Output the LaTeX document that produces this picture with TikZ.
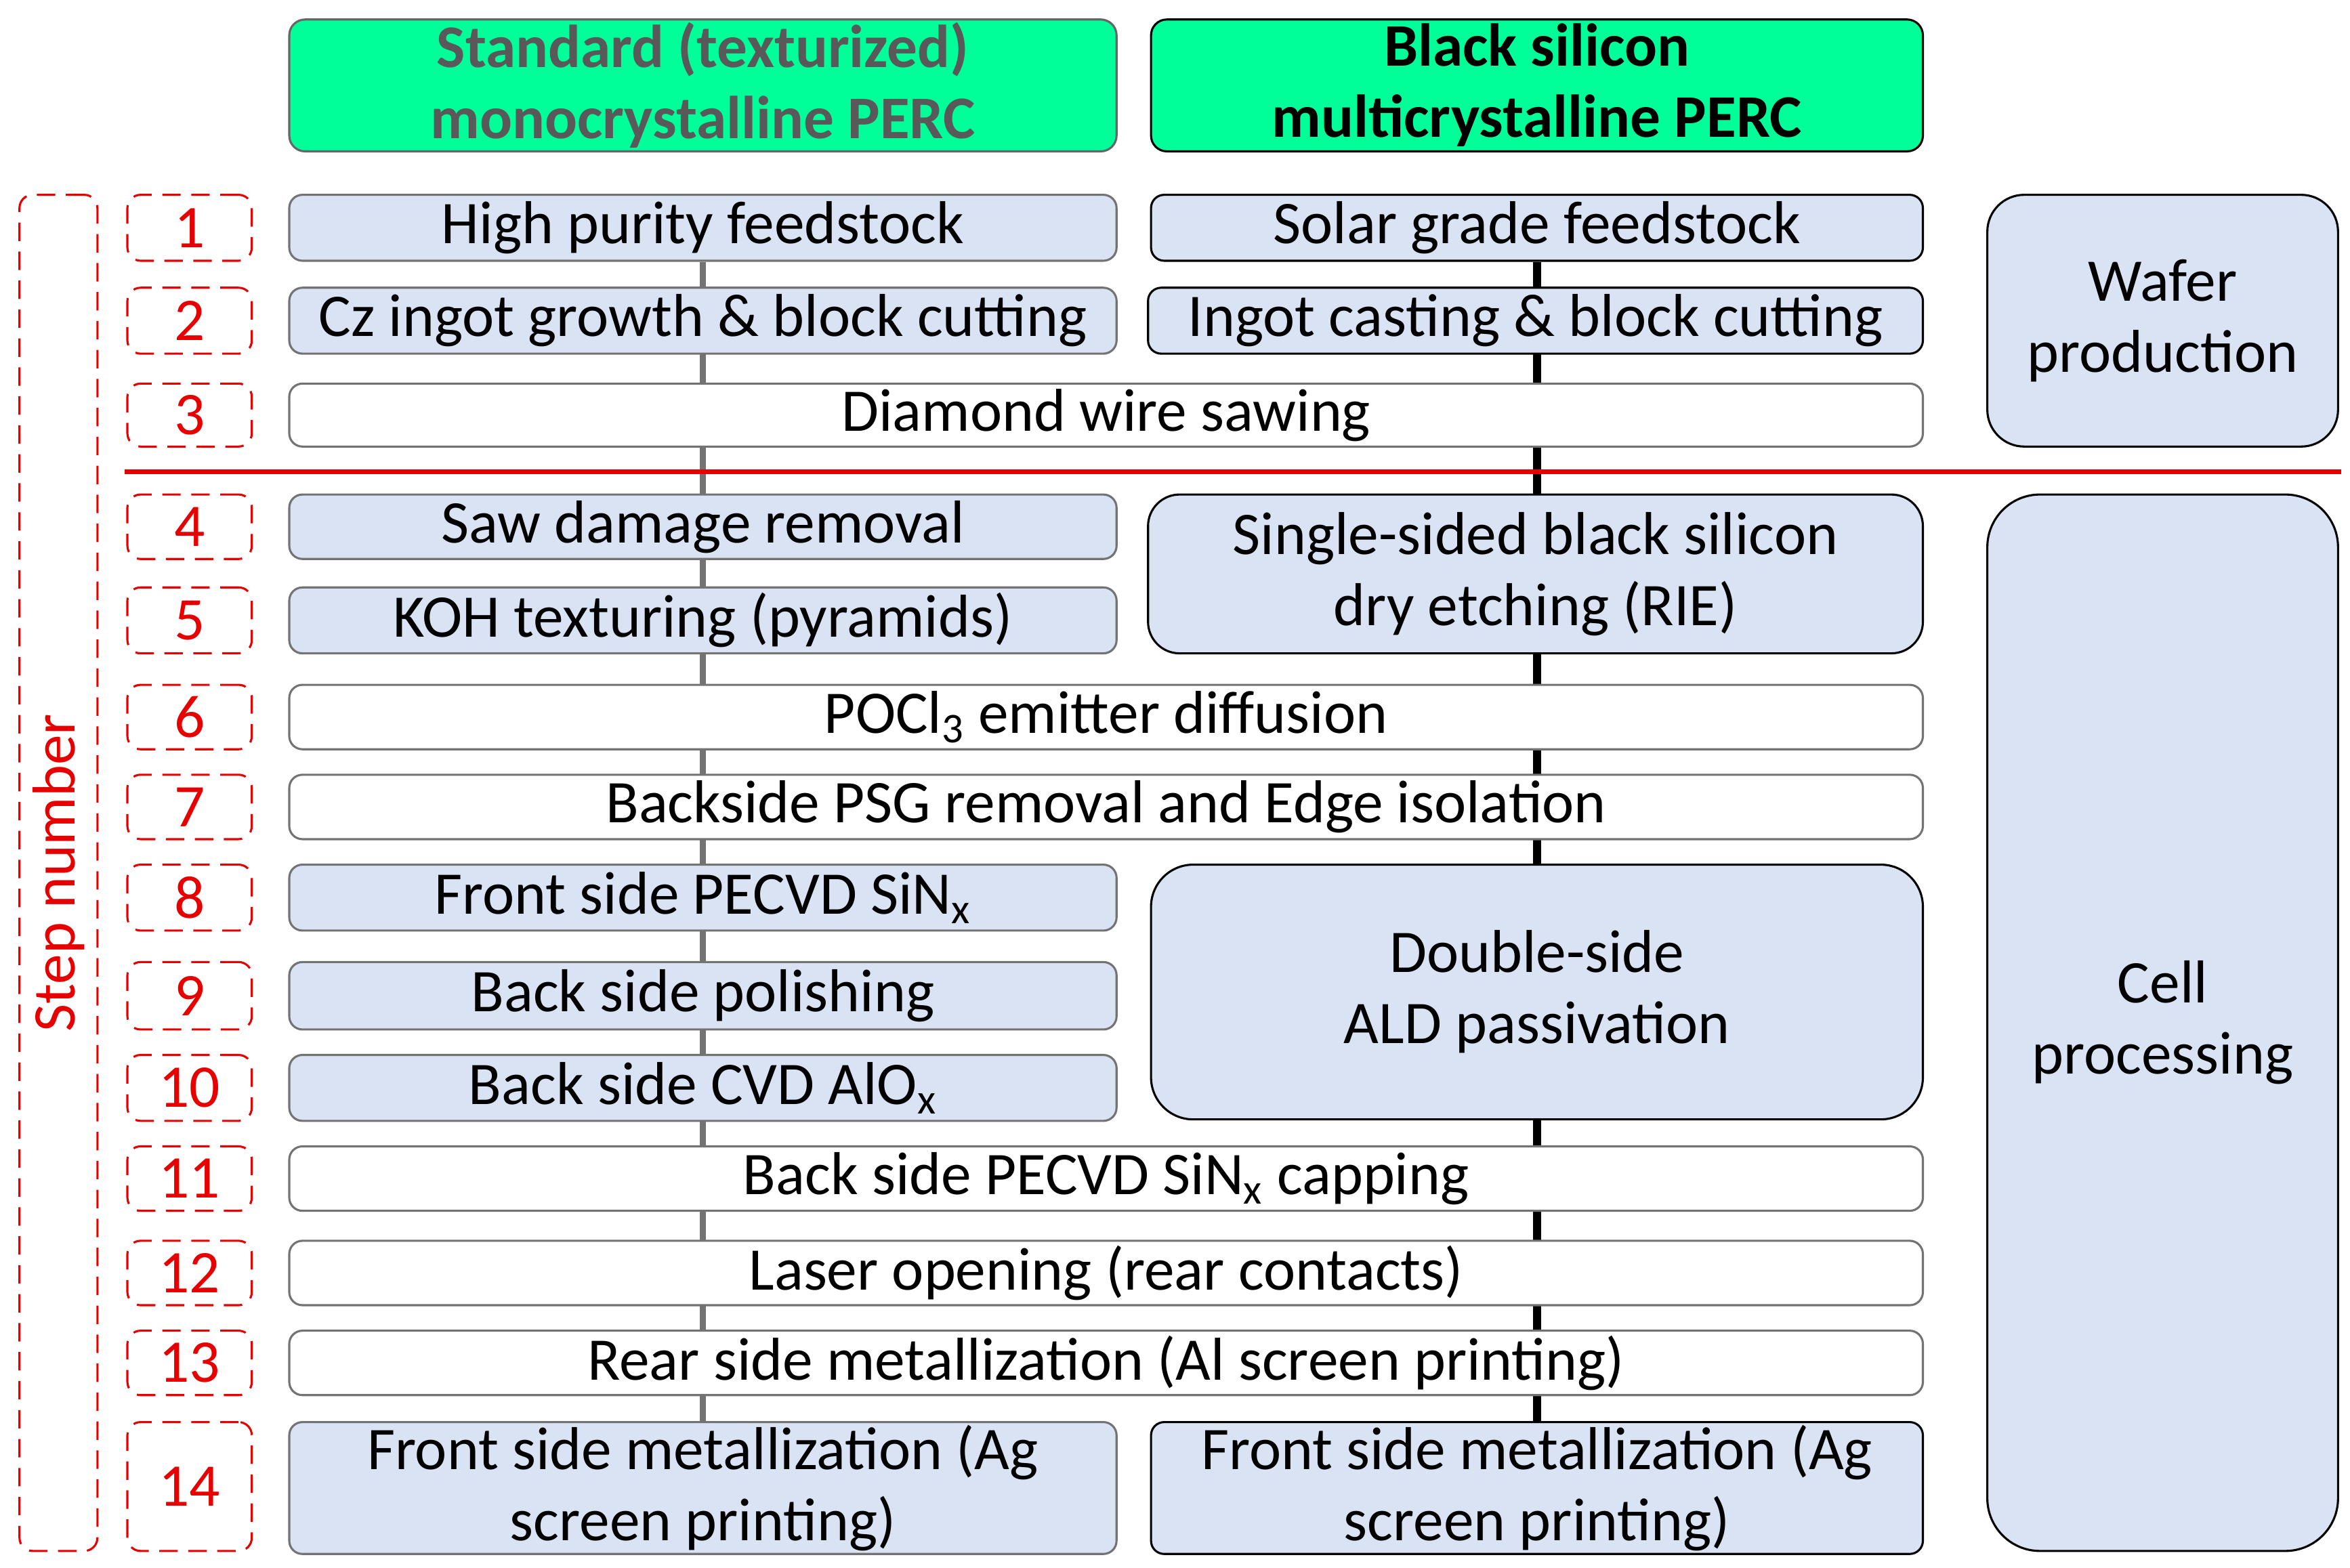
\documentclass[tikz,border=0pt]{standalone}
\usepackage{fontspec}
\setmainfont{Carlito}
\usepackage{tikz}
\usetikzlibrary{fit,backgrounds}
\definecolor{hdrgreen}{RGB}{0,255,153}
\definecolor{boxblue}{RGB}{218,227,243}
\definecolor{stepred}{RGB}{230,0,0}
\begin{document}
\begin{tikzpicture}[x=0.02cm,y=-0.02cm,
    every node/.style={inner sep=0pt, align=center, font=\fontsize{23}{27}\selectfont},
    hdr/.style={draw=black!60, thick, rounded corners=6pt, fill=hdrgreen},
    hdrtext/.style={font=\fontsize{23}{27}\selectfont\bfseries},
    proc/.style={draw=black!55, thick, rounded corners=5pt, fill=boxblue},
    procb/.style={draw=black, thick, rounded corners=5pt, fill=boxblue},
    common/.style={draw=black!55, thick, rounded corners=5pt, fill=white},
    nr/.style={draw=stepred, thick, dash pattern=on 7pt off 4pt, rounded corners=5pt, text=stepred},
    phase/.style={draw=black, thick, rounded corners=14pt, fill=boxblue}
    ]
    \useasboundingbox (0,0) rectangle (1568,1046);

    % headers
    \node[hdr, fit={(193,13)(745,101)}, label={[hdrtext, text=black!65]center:{Standard (texturized)\\monocrystalline PERC}}](hstd){};
    \node[hdr, draw=black, fit={(768,13)(1283,101)}, label={[hdrtext]center:{Black silicon\\multicrystalline PERC}}](hbs){};

    % process steps
    \node[proc, fit={(193,130)(745,174)}, label=center:{High purity feedstock}](s1){};
    \node[procb, fit={(768,130)(1283,174)}, label=center:{Solar grade feedstock}](b1){};
    \node[proc, fit={(193,192)(745,236)}, label=center:{Cz ingot growth \& block cutting}](s2){};
    \node[procb, fit={(766,192)(1283,236)}, label=center:{Ingot casting \& block cutting}](b2){};
    \node[common, fit={(193,256)(1283,298)}, label=center:{Diamond wire sawing}](c3){};
    \node[proc, fit={(193,330)(745,373)}, label=center:{Saw damage removal}](s4){};
    \node[proc, fit={(193,392)(745,436)}, label=center:{KOH texturing (pyramids)}](s5){};
    \node[procb, rounded corners=12pt, fit={(766,330)(1283,436)}, label=center:{Single-sided black silicon\\dry etching (RIE)}](b4){};
    \node[common, fit={(193,457)(1283,500)}, label=center:{POCl\textsubscript{3} emitter diffusion}](c6){};
    \node[common, fit={(193,517)(1283,560)}, label=center:{Backside PSG removal and Edge isolation}](c7){};
    \node[proc, fit={(193,577)(745,621)}, label=center:{Front side PECVD SiN\textsubscript{x}}](s8){};
    \node[proc, fit={(193,642)(745,687)}, label=center:{Back side polishing}](s9){};
    \node[proc, fit={(193,704)(745,748)}, label=center:{Back side CVD AlO\textsubscript{x}}](s10){};
    \node[procb, rounded corners=16pt, fit={(768,577)(1283,747)}, label=center:{Double-side\\ALD passivation}](b8){};
    \node[common, fit={(193,765)(1283,808)}, label=center:{Back side PECVD SiN\textsubscript{x} capping}](c11){};
    \node[common, fit={(193,828)(1283,871)}, label=center:{Laser opening (rear contacts)}](c12){};
    \node[common, fit={(193,888)(1283,931)}, label=center:{Rear side metallization (Al screen printing)}](c13){};
    \node[proc, fit={(193,949)(745,1037)}, label=center:{Front side metallization (Ag\\screen printing)}](s14){};
    \node[procb, fit={(768,949)(1283,1037)}, label=center:{Front side metallization (Ag\\screen printing)}](b14){};

    % step numbers
    \node[nr, fit={(85,130)(168,174)}, label={[text=stepred]center:1}](n1){};
    \node[nr, fit={(85,192)(168,236)}, label={[text=stepred]center:2}](n2){};
    \node[nr, fit={(85,256)(168,298)}, label={[text=stepred]center:3}](n3){};
    \node[nr, fit={(85,330)(168,373)}, label={[text=stepred]center:4}](n4){};
    \node[nr, fit={(85,392)(168,436)}, label={[text=stepred]center:5}](n5){};
    \node[nr, fit={(85,457)(168,500)}, label={[text=stepred]center:6}](n6){};
    \node[nr, fit={(85,517)(168,560)}, label={[text=stepred]center:7}](n7){};
    \node[nr, fit={(85,577)(168,621)}, label={[text=stepred]center:8}](n8){};
    \node[nr, fit={(85,642)(168,687)}, label={[text=stepred]center:9}](n9){};
    \node[nr, fit={(85,704)(168,748)}, label={[text=stepred]center:10}](n10){};
    \node[nr, fit={(85,765)(168,808)}, label={[text=stepred]center:11}](n11){};
    \node[nr, fit={(85,828)(168,871)}, label={[text=stepred]center:12}](n12){};
    \node[nr, fit={(85,888)(168,931)}, label={[text=stepred]center:13}](n13){};
    \node[nr, fit={(85,949)(168,1035)}, label={[text=stepred]center:14}](n14){};
    \node[nr, fit={(13,130)(65,1035)}](stepbox){};
    \node[text=stepred, rotate=90] at (stepbox.center){Step number};

    % phases
    \node[phase, fit={(1326,130)(1560,298)}, label=center:{Wafer\\production}](wafer){};
    \node[phase, rounded corners=20pt, fit={(1326,330)(1560,1035)}, label=center:{Cell\\processing}](cell){};

    % flow lines behind the boxes
    \begin{scope}[on background layer]
    \draw[black!55, line width=2.5pt] (s1.south) -- (s14.north);
    \draw[black, line width=3pt] (s1.south -| b1.south) -- (b14.north);
    \end{scope}

    % wafer / cell separator
    \coordinate (sepl) at (83,315);
    \coordinate (sepr) at (1562,315);
    \draw[stepred, line width=1.8pt] (sepl) -- (sepr);
\end{tikzpicture}
\end{document}
